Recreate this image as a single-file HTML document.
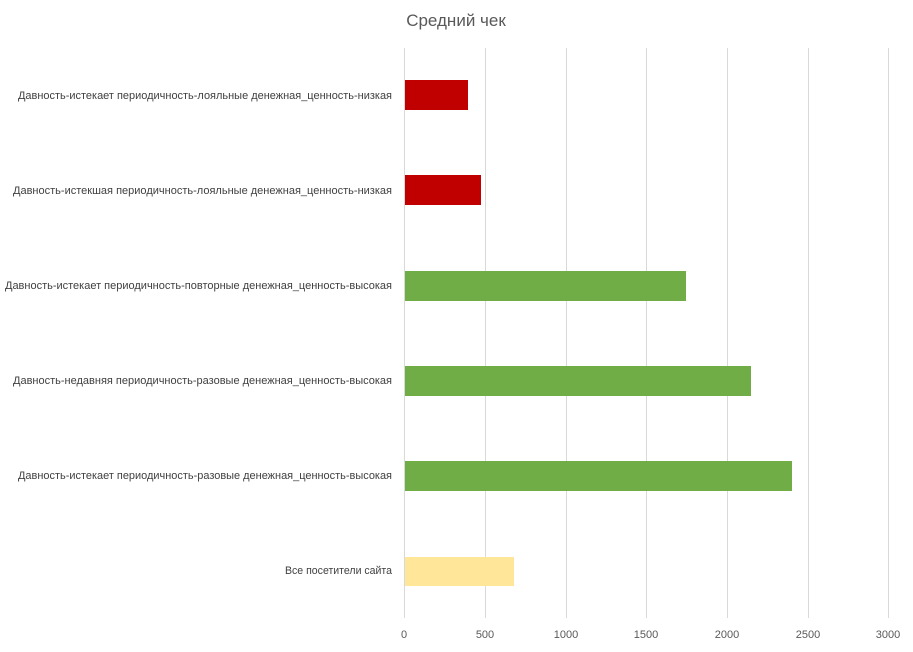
<!DOCTYPE html><html><head><meta charset="utf-8"><style>body{margin:0;background:#fff}</style></head><body>
<svg width="913" height="647" xmlns="http://www.w3.org/2000/svg" font-family="Liberation Sans, DejaVu Sans, sans-serif">
<rect width="913" height="647" fill="#fff"/>
<text x="456" y="26" text-anchor="middle" font-size="17" fill="#595959">Средний чек</text>
<g stroke="#d9d9d9" stroke-width="1">
<line x1="404.5" y1="48" x2="404.5" y2="618"/><line x1="485.5" y1="48" x2="485.5" y2="618"/><line x1="566.5" y1="48" x2="566.5" y2="618"/><line x1="646.5" y1="48" x2="646.5" y2="618"/><line x1="727.5" y1="48" x2="727.5" y2="618"/><line x1="808.5" y1="48" x2="808.5" y2="618"/><line x1="888.5" y1="48" x2="888.5" y2="618"/>
</g>
<rect x="405" y="80" width="63" height="30" fill="#c00000"/>
<rect x="405" y="175" width="76" height="30" fill="#c00000"/>
<rect x="405" y="271" width="281" height="30" fill="#70ad47"/>
<rect x="405" y="366" width="346" height="30" fill="#70ad47"/>
<rect x="405" y="461" width="387" height="30" fill="#70ad47"/>
<rect x="405" y="557" width="109" height="29" fill="#ffe699"/>
<g font-size="11" fill="#404040">
<text x="18" y="99" textLength="374" lengthAdjust="spacingAndGlyphs">Давность-истекает периодичность-лояльные денежная_ценность-низкая</text>
<text x="13" y="194" textLength="379" lengthAdjust="spacingAndGlyphs">Давность-истекшая периодичность-лояльные денежная_ценность-низкая</text>
<text x="5" y="289" textLength="387" lengthAdjust="spacingAndGlyphs">Давность-истекает периодичность-повторные денежная_ценность-высокая</text>
<text x="13" y="384" textLength="379" lengthAdjust="spacingAndGlyphs">Давность-недавняя периодичность-разовые денежная_ценность-высокая</text>
<text x="18" y="479" textLength="374" lengthAdjust="spacingAndGlyphs">Давность-истекает периодичность-разовые денежная_ценность-высокая</text>
<text x="285" y="574" textLength="107" lengthAdjust="spacingAndGlyphs">Все посетители сайта</text>
</g>
<g font-size="11" fill="#595959" text-anchor="middle">
<text x="404" y="638">0</text><text x="485" y="638">500</text><text x="566" y="638">1000</text><text x="646" y="638">1500</text><text x="727" y="638">2000</text><text x="808" y="638">2500</text><text x="888" y="638">3000</text>
</g>
</svg></body></html>
